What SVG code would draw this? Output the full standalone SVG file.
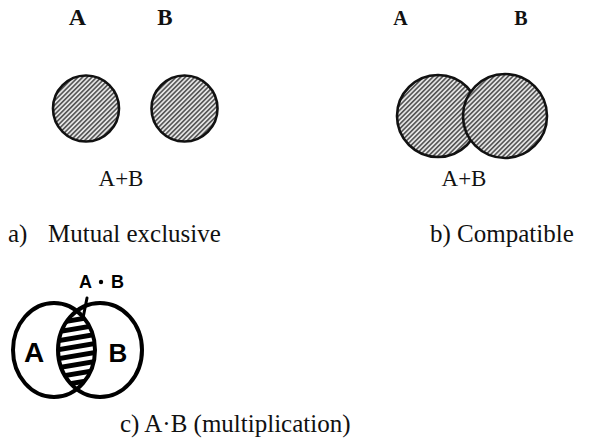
<svg xmlns="http://www.w3.org/2000/svg" width="589" height="446" viewBox="0 0 589 446">
  <defs>
    <pattern id="hatch" width="3.3" height="3.3" patternUnits="userSpaceOnUse" patternTransform="rotate(45)">
      <rect width="3.3" height="3.3" fill="#e4e4e4"/>
      <line x1="0.8" y1="0" x2="0.8" y2="3.3" stroke="#333" stroke-width="1.3"/>
    </pattern>
    <clipPath id="clipLeft">
      <ellipse cx="54" cy="350" rx="41" ry="47"/>
    </clipPath>
    <clipPath id="clipRight">
      <ellipse cx="100" cy="350" rx="42" ry="47"/>
    </clipPath>
  </defs>
  <style>
    .set { fill: url(#hatch); stroke: #111; stroke-width: 2.6; }
    .lbl { font-family: "Liberation Serif", "Times New Roman", serif; fill: #111; }
    .head { font-weight: bold; }
    .hand { font-family: "Liberation Sans", Arial, sans-serif; font-weight: bold; fill: #000; }
    .ring { fill: none; stroke: #000; stroke-width: 4; }
    .stripe { stroke: #000; stroke-width: 5; }
    .link { stroke: #000; stroke-width: 3; fill: none; stroke-linecap: round; }
  </style>

  <rect fill="#fff" width="589" height="446"/>

  <!-- a) two disjoint sets -->
  <g id="mutual-A">
    <text class="lbl head" x="77.5" y="25" font-size="24" text-anchor="middle">A</text>
    <circle class="set" cx="86" cy="108.5" r="33"/>
  </g>
  <g id="mutual-B">
    <text class="lbl head" x="165" y="25" font-size="23" text-anchor="middle">B</text>
    <circle class="set" cx="184.5" cy="108.5" r="33"/>
  </g>
  <g id="mutual-caption">
    <text class="lbl" x="121" y="186" font-size="23" text-anchor="middle">A+B</text>
    <text class="lbl" x="8" y="242" font-size="25">a)</text>
    <text class="lbl" x="48" y="242" font-size="25">Mutual exclusive</text>
  </g>

  <!-- b) two overlapping sets -->
  <g id="compatible-A">
    <text class="lbl head" x="400.5" y="25" font-size="20" text-anchor="middle">A</text>
    <circle class="set" cx="438" cy="116" r="41"/>
  </g>
  <g id="compatible-B">
    <text class="lbl head" x="521" y="25" font-size="20" text-anchor="middle">B</text>
    <circle class="set" cx="505" cy="116" r="42"/>
  </g>
  <g id="compatible-caption">
    <text class="lbl" x="464" y="186" font-size="23" text-anchor="middle">A+B</text>
    <text class="lbl" x="430" y="242" font-size="25">b) Compatible</text>
  </g>

  <!-- c) intersection of two sets: striped lens -->
  <g id="product-lens">
    <g clip-path="url(#clipLeft)">
      <g clip-path="url(#clipRight)">
        <line class="stripe" x1="50" y1="315" x2="110" y2="305"/>
        <line class="stripe" x1="50" y1="324" x2="110" y2="314"/>
        <line class="stripe" x1="50" y1="333" x2="110" y2="323"/>
        <line class="stripe" x1="50" y1="342" x2="110" y2="332"/>
        <line class="stripe" x1="50" y1="351" x2="110" y2="341"/>
        <line class="stripe" x1="50" y1="360" x2="110" y2="350"/>
        <line class="stripe" x1="50" y1="369" x2="110" y2="359"/>
        <line class="stripe" x1="50" y1="378" x2="110" y2="368"/>
        <line class="stripe" x1="50" y1="387" x2="110" y2="377"/>
        <line class="stripe" x1="50" y1="396" x2="110" y2="386"/>
      </g>
    </g>
  </g>
  <g id="product-A">
    <ellipse class="ring" cx="54" cy="350" rx="41" ry="47"/>
    <text class="hand" x="34" y="362" font-size="28" text-anchor="middle">A</text>
  </g>
  <g id="product-B">
    <ellipse class="ring" cx="100" cy="350" rx="42" ry="47"/>
    <text class="hand" x="118" y="362" font-size="26" text-anchor="middle">B</text>
  </g>
  <g id="product-label">
    <text class="hand" x="85.5" y="288" font-size="18" text-anchor="middle">A</text>
    <circle cx="101" cy="282" r="2.2" fill="#000"/>
    <text class="hand" x="117.5" y="288" font-size="18" text-anchor="middle">B</text>
  </g>
  <g id="product-caption">
    <text class="lbl" x="120" y="432" font-size="25">c) A·B (multiplication)</text>
  </g>

  <!-- pointer from the product label into the striped lens -->
  <g id="connectors">
    <path class="link" d="M87 298 L83 318"/>
  </g>
</svg>
